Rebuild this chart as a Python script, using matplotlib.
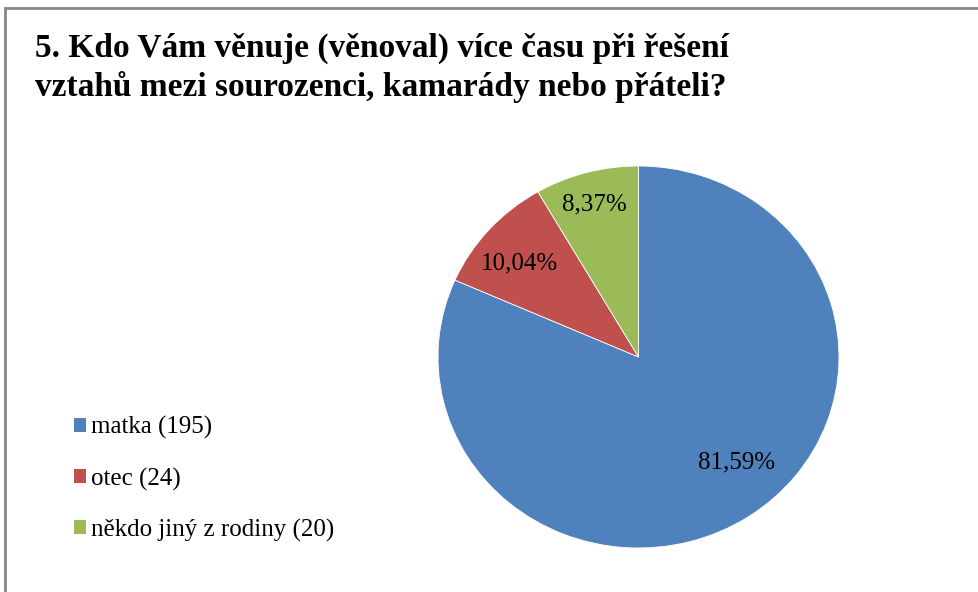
import matplotlib

matplotlib.use('Agg')

import matplotlib.pyplot as plt
from matplotlib.patches import Rectangle

# Data
categories = ['matka (195)', 'otec (24)', 'někdo jiný z rodiny (20)']
counts = [195, 24, 20]
colors = ['#4f81bd', '#c0504d', '#9bbb59']
# where the percentage labels sit inside the pie (fraction of radius)
label_pos = [(0.49, -0.55), (-0.595, 0.49), (-0.218, 0.80)]

title = '5. Kdo Vám věnuje (věnoval) více času při řešení\nvztahů mezi sourozenci, kamarády nebo přáteli?'

serif = ['Liberation Serif', 'DejaVu Serif']
plt.rcParams['font.family'] = serif

W, H = 979, 592
fig = plt.figure(figsize=(W / 100, H / 100), dpi=100)
fig.patch.set_facecolor('white')

# chart frame (only left and top edges visible in the crop)
fig.add_artist(Rectangle((5 / W, -0.1), 1.2, (H - 8) / H + 0.1, transform=fig.transFigure,
                         facecolor='none', edgecolor='#868686', linewidth=2))

fig.text(35 / W, 1 - 33 / H, title, fontsize=24, fontweight='bold', va='top', ha='left',
         linespacing=1.26, family=serif)

# pie area in pixel coordinates
left, top, right, bottom = 438, 166, 839, 548
ax = fig.add_axes([left / W, 1 - bottom / H, (right - left) / W, (bottom - top) / H])


def fmt(p):
    return ('%.2f%%' % p).replace('.', ',')


wedges, texts, autotexts = ax.pie(counts, colors=colors, startangle=90, counterclock=False,
                                  autopct=fmt, pctdistance=0.76,
                                  wedgeprops=dict(linewidth=0.6, edgecolor='white'),
                                  textprops=dict(fontsize=18, color='black', family=serif))
for t, pos in zip(autotexts, label_pos):
    t.set_position(pos)
ax.set_aspect('auto')
ax.set_xlim(-1, 1)
ax.set_ylim(-1, 1)

handles = [Rectangle((0, 0), 1, 1, facecolor=c) for c in colors]
fig.legend(handles, categories, loc='center left', bbox_to_anchor=(51 / W, 1 - 479 / H),
           frameon=False, prop=dict(family=serif, size=18), handlelength=0.5,
           handleheight=0.5, handletextpad=0.2, labelspacing=1.12)

fig.savefig('out.png', dpi=100, facecolor='white')
